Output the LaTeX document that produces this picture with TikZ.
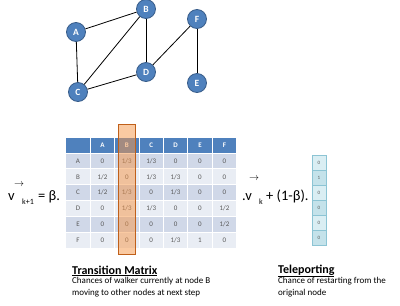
\documentclass[tikz,border=0pt]{standalone}
\usepackage{fontspec}
\setmainfont{Carlito}
\definecolor{nodeblue}{HTML}{4F81BD}
\definecolor{nodeedge}{HTML}{385D8A}
\definecolor{rowdark}{HTML}{D0D8E8}
\definecolor{rowlight}{HTML}{E9EDF4}
\definecolor{celltext}{HTML}{595959}
\definecolor{hiorange}{HTML}{F79646}
\definecolor{hiedge}{HTML}{C0601A}
\definecolor{vecfill}{HTML}{DAEEF3}
\definecolor{vecfilldark}{HTML}{C4E2EA}
\definecolor{vecedge}{HTML}{8CC4D4}
\tikzset{
  gnode/.style={circle, fill=nodeblue, draw=nodeedge, line width=0.8pt, minimum size=19pt, inner sep=0pt, text=white, font=\fontsize{9.5}{10}\selectfont\bfseries},
  gedge/.style={line width=0.8pt, black},
  cell/.style={minimum width=24.4pt, minimum height=15.9pt, inner sep=0pt, draw=white, line width=0.9pt, text=celltext, font=\fontsize{7}{8}\selectfont},
  hcell/.style={cell, fill=nodeblue, text=white, font=\fontsize{7}{8}\selectfont\bfseries},
  dcell/.style={cell, fill=rowdark},
  lcell/.style={cell, fill=rowlight},
  vcell/.style={minimum width=14pt, minimum height=15pt, inner sep=0pt, draw=vecedge, line width=0.8pt, text=celltext, font=\fontsize{5}{6}\selectfont},
  eqtext/.style={inner sep=0pt, font=\fontsize{14.5}{16}\selectfont},
  subtext/.style={inner sep=0pt, font=\fontsize{8}{9}\selectfont},
  arr/.style={inner sep=0pt, font=\fontsize{10}{10}\selectfont},
  title/.style={inner sep=0pt, anchor=west, font=\fontsize{12}{14}\selectfont\bfseries},
  desc/.style={inner sep=0pt, anchor=north west, align=left, font=\fontsize{9}{12}\selectfont}
}
\begin{document}
\begin{tikzpicture}[x=1pt,y=-1pt]
\useasboundingbox[fill=white] (0,0) rectangle (400,306);
% graph
\node[gnode] (A) at (76,32) {A};
\node[gnode] (B) at (146,9) {B};
\node[gnode] (F) at (197,19) {F};
\node[gnode] (D) at (146,72) {D};
\node[gnode] (E) at (197,83) {E};
\node[gnode] (C) at (78,92) {C};
\draw[gedge] (A) -- (B);
\draw[gedge] (A) -- (C);
\draw[gedge] (B) -- (C);
\draw[gedge] (B) -- (D);
\draw[gedge] (C) -- (D);
\draw[gedge] (D) -- (F);
\draw[gedge] (F) -- (E);
% table
\foreach \lab [count=\i] in {,A,B,C,D,E,F} {
  \node[hcell] (h\i) at ({78+(\i-1)*24.4},145) {\lab};
}
\foreach \r/\lab/\va/\vb/\vc/\vd/\ve/\vf [count=\j] in {
  A/A/0/1\slash3/1\slash3/0/0/0,
  B/B/1\slash2/0/1\slash3/1\slash3/0/0,
  C/C/1\slash2/1\slash3/0/1\slash3/0/0,
  D/D/0/1\slash3/1\slash3/0/0/1\slash2,
  E/E/0/0/0/0/0/1\slash2,
  F/F/0/0/0/1\slash3/1/0} {
  \pgfmathsetmacro{\yy}{160.9+(\j-1)*15.9}
  \pgfmathtruncatemacro{\odd}{mod(\j,2)}
  \ifnum\odd=1 \def\st{dcell}\else\def\st{lcell}\fi
  \node[\st] (r\r l) at (78,\yy) {\lab};
  \node[\st] (r\r a) at (102.4,\yy) {\va};
  \node[\st] (r\r b) at (126.8,\yy) {\vb};
  \node[\st] (r\r c) at (151.2,\yy) {\vc};
  \node[\st] (r\r d) at (175.6,\yy) {\vd};
  \node[\st] (r\r e) at (200,\yy) {\ve};
  \node[\st] (r\r f) at (224.4,\yy) {\vf};
}
% highlight
\fill[hiorange, fill opacity=0.5] (118,124) rectangle (135,254);
\draw[hiedge, line width=0.9pt] (118,124) rectangle (135,254);
% left equation
\node[eqtext, anchor=base west] (v1) at (8,200) {v};
\node[arr] (ar1) at (19,185) {$\rightarrow$};
\node[subtext, anchor=base west] (s1) at (22,204) {k+1};
\node[eqtext, anchor=base west] (eq1) at (38,200.5) {= β.};
% right equation
\node[eqtext, anchor=base west] (v2) at (242,200) {.v};
\node[arr] (ar2) at (254,179) {$\rightarrow$};
\node[subtext, anchor=base west] (s2) at (259,204) {k};
\node[eqtext, anchor=base west] (eq2) at (266,200.5) {+ (1-β).};
% teleport vector
\foreach \val [count=\k] in {0,1,0,0,0,0} {
  \pgfmathtruncatemacro{\odd}{mod(\k,2)}
  \ifnum\odd=1 \def\vf{vecfill}\else\def\vf{vecfilldark}\fi
  \node[vcell, fill=\vf] (t\k) at (319,{163+(\k-1)*15}) {\val};
}
% captions
\node[title] (tt1) at (72,271) {\underline{Transition Matrix}};
\node[desc] (dd1) at (72,277) {Chances of walker currently at node B\\moving to other nodes at next step};
\node[title] (tt2) at (278,271) {\underline{Teleporting}};
\node[desc] (dd2) at (278,277) {Chance of restarting from the\\original node};
\end{tikzpicture}
\end{document}
